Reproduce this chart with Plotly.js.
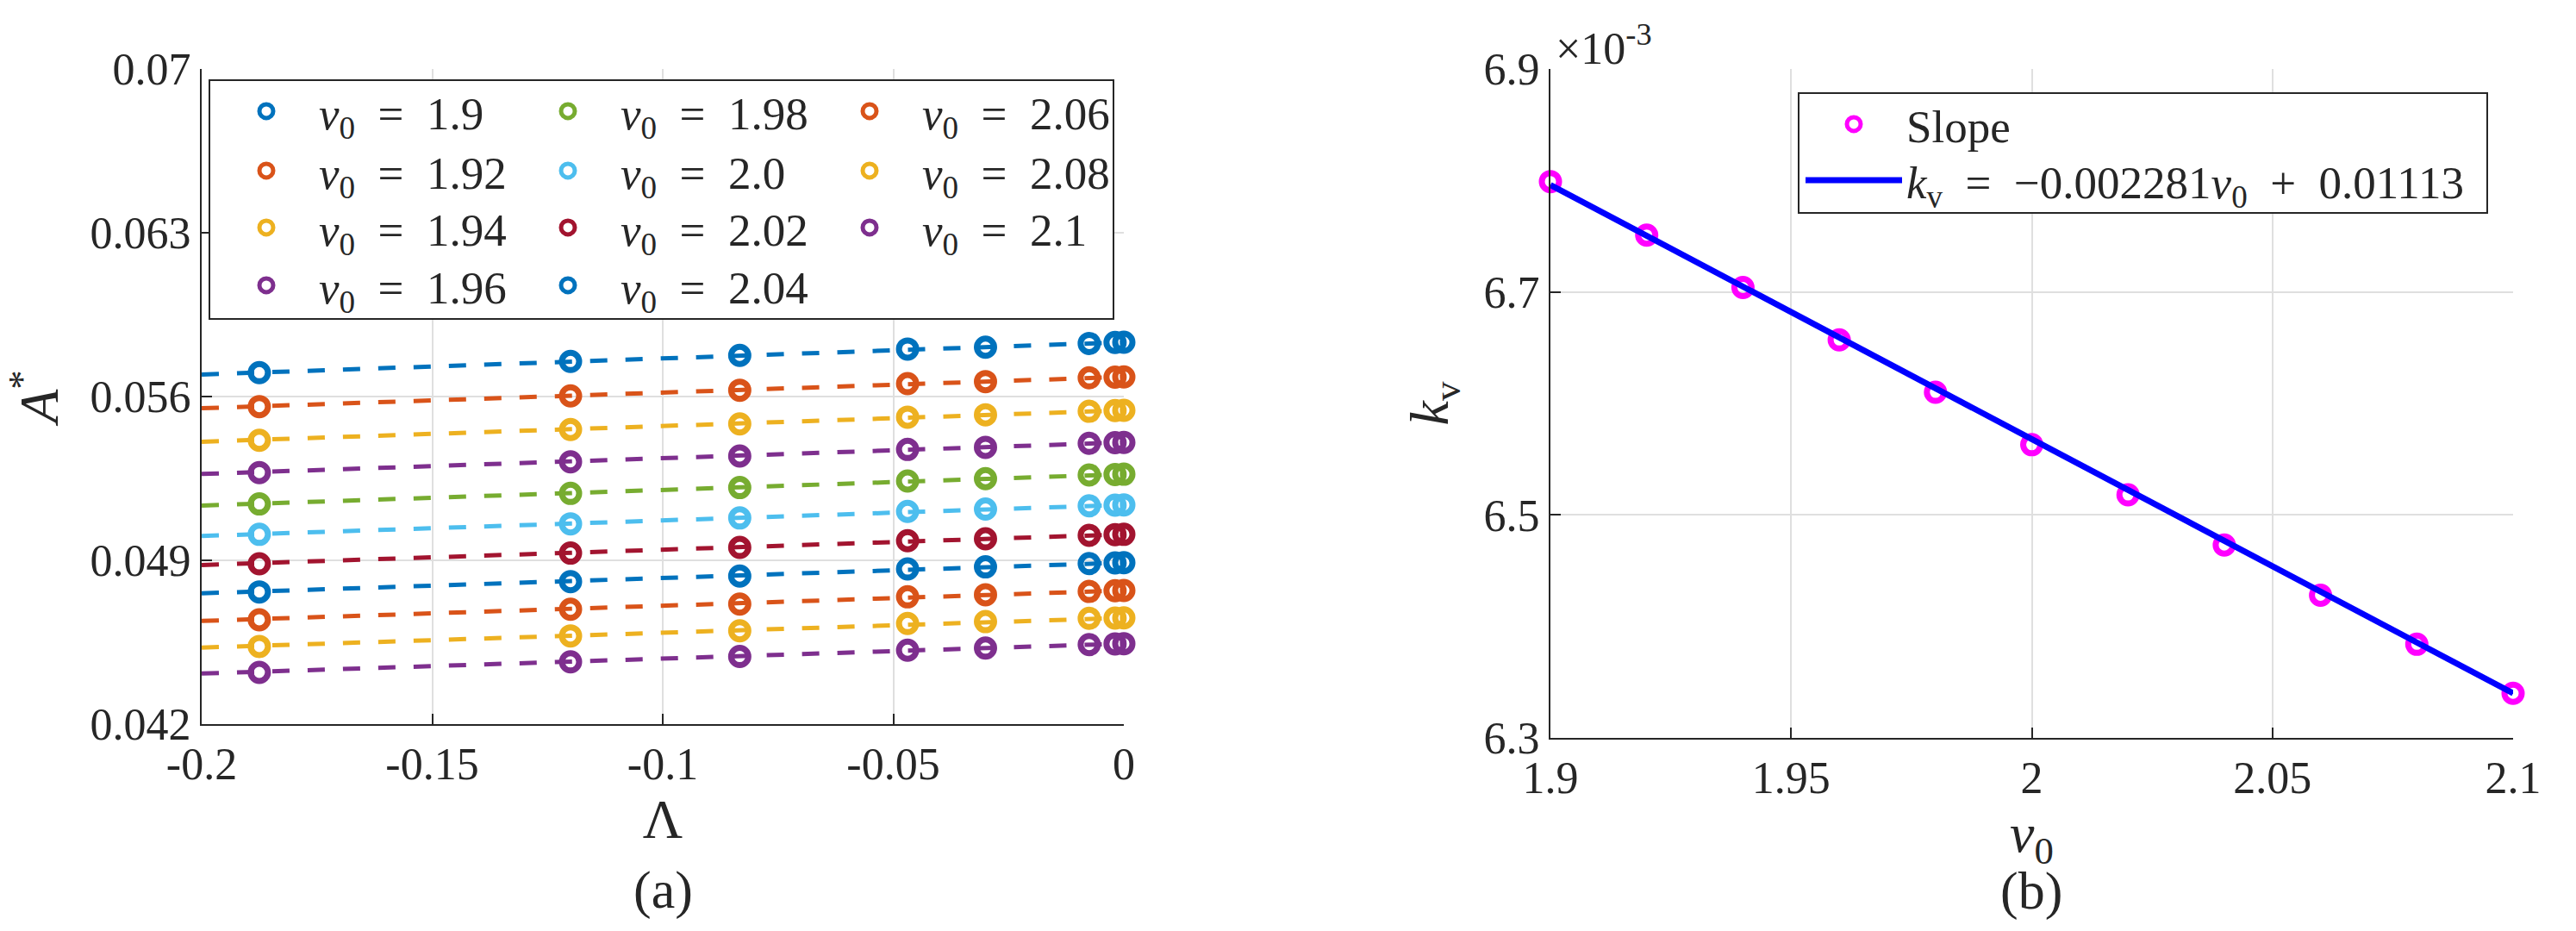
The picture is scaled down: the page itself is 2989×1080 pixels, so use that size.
<!DOCTYPE html>
<html lang="en">
  <head>
    <meta charset="utf-8">
    <title>A* vs Lambda and slope k_v</title>
    <script src="https://cdn.plot.ly/plotly-3.0.1.min.js" charset="utf-8"></script>
    <style>
      body { margin: 0; background: #fff; }
    </style>
  </head>
  <body>
    <div id="plot" style="width:2989px;height:1080px"></div>
    <script type="text/javascript">
      // ---- data ----
      const lambdaVals = [-0.1875, -0.12, -0.0833, -0.0469, -0.03, -0.0075, -0.0019, 0];
      const v0Vals = [1.9, 1.92, 1.94, 1.96, 1.98, 2.0, 2.02, 2.04, 2.06, 2.08, 2.1];
      const v0Labels = ['1.9', '1.92', '1.94', '1.96', '1.98', '2.0', '2.02', '2.04', '2.06', '2.08', '2.1'];

      const aV190 = [0.05702, 0.05750, 0.05776, 0.05803, 0.05811, 0.05827, 0.05831, 0.05832];
      const aV192 = [0.05557, 0.05603, 0.05627, 0.05655, 0.05664, 0.05680, 0.05683, 0.05684];
      const aV194 = [0.05413, 0.05459, 0.05483, 0.05512, 0.05522, 0.05537, 0.05540, 0.05541];
      const aV196 = [0.05275, 0.05321, 0.05346, 0.05374, 0.05383, 0.05400, 0.05403, 0.05404];
      const aV198 = [0.05141, 0.05186, 0.05211, 0.05239, 0.05249, 0.05265, 0.05267, 0.05268];
      const aV200 = [0.05011, 0.05056, 0.05081, 0.05109, 0.05119, 0.05133, 0.05136, 0.05137];
      const aV202 = [0.04885, 0.04931, 0.04955, 0.04984, 0.04992, 0.05007, 0.05010, 0.05011];
      const aV204 = [0.04765, 0.04809, 0.04833, 0.04863, 0.04872, 0.04886, 0.04889, 0.04890];
      const aV206 = [0.04646, 0.04691, 0.04713, 0.04744, 0.04753, 0.04767, 0.04770, 0.04771];
      const aV208 = [0.04532, 0.04577, 0.04599, 0.04630, 0.04638, 0.04652, 0.04653, 0.04654];
      const aV210 = [0.04421, 0.04466, 0.04489, 0.04516, 0.04525, 0.04540, 0.04543, 0.04544];
      const aSeries = [aV190, aV192, aV194, aV196, aV198, aV200, aV202, aV204, aV206, aV208, aV210];

      // dashed fitted lines, ends at Lambda = -0.2 and 0
      const fitLambda = [-0.2, 0];
      const fitLeft = [0.05694, 0.05550, 0.05407, 0.05269, 0.05134, 0.05004, 0.04880, 0.04759, 0.04641, 0.04527, 0.04416];
      const fitRight = [0.05832, 0.05684, 0.05541, 0.05404, 0.05268, 0.05137, 0.05011, 0.04890, 0.04771, 0.04654, 0.04544];

      // panel (b): slope k_v against v0
      const slopeK = [0.006799, 0.006751, 0.006704, 0.006657, 0.006610, 0.006563, 0.006518, 0.006473, 0.006428, 0.006384, 0.006340];
      const kFitV0 = [1.9, 2.1];
      const kFitVals = [0.006796, 0.006340];

      // tick labels
      const axLambdaTicks = [-0.2, -0.15, -0.1, -0.05, 0];
      const axLambdaText = ['-0.2', '-0.15', '-0.1', '-0.05', '0'];
      const axATicks = [0.042, 0.049, 0.056, 0.063, 0.07];
      const axAText = ['0.042', '0.049', '0.056', '0.063', '0.07'];
      const axV0Ticks = [1.9, 1.95, 2, 2.05, 2.1];
      const axV0Text = ['1.9', '1.95', '2', '2.05', '2.1'];
      const axKTicks = [0.0063, 0.0065, 0.0067, 0.0069];
      const axKText = ['6.3', '6.5', '6.7', '6.9'];

      // ---- styling ----
      const W = 2989, H = 1080;
      const px = x => x / W;
      const py = y => 1 - y / H;
      const FONT = '"Liberation Serif", "DejaVu Serif", serif';
      const INK = '#262626';
      const GRID = '#dfdfdf';
      const matlabColors = ['#0072BD', '#D95319', '#EDB120', '#7E2F8E', '#77AC30', '#4DBEEE', '#A2142F'];
      const EQ = '\u2002=\u2002';
      // every legend entry gets its own legend, laid out 3 columns x 4 rows like the original box
      const legendId = n => (n === 1 ? 'legend' : 'legend' + n);
      const colLeft = [248, 598, 948];
      const rowMid = [129, 198, 264, 331];

      let traces = [];
      // dashed lines first (no legend)
      aSeries.forEach((ys, i) => {
        traces.push({
          x: fitLambda,
          y: [fitLeft[i], fitRight[i]],
          type: 'scatter',
          mode: 'lines',
          xaxis: 'x', yaxis: 'y',
          showlegend: false,
          hoverinfo: 'skip',
          line: {color: matlabColors[i % 7], width: 5, dash: '20px,21px'}
        });
      });
      // circle markers
      aSeries.forEach((ys, i) => {
        traces.push({
          x: lambdaVals,
          y: ys,
          type: 'scatter',
          mode: 'markers',
          xaxis: 'x', yaxis: 'y',
          name: '<i>v</i><sub>0</sub>' + EQ + v0Labels[i],
          legend: legendId(i + 1),
          cliponaxis: false,
          marker: {symbol: 'circle-open', size: 20, color: matlabColors[i % 7], line: {width: 7, color: matlabColors[i % 7]}}
        });
      });
      // panel b
      traces.push({
        x: v0Vals,
        y: slopeK,
        type: 'scatter',
        mode: 'markers',
        xaxis: 'x2', yaxis: 'y2',
        name: 'Slope',
        legend: legendId(12),
        cliponaxis: false,
        marker: {symbol: 'circle-open', size: 20, color: '#FF00FF', line: {width: 7, color: '#FF00FF'}}
      });
      traces.push({
        x: kFitV0,
        y: kFitVals,
        type: 'scatter',
        mode: 'lines',
        xaxis: 'x2', yaxis: 'y2',
        name: '<i>k</i><sub>v</sub>' + EQ + '\u22120.002281<i>v</i><sub>0</sub>\u2002+\u20020.01113',
        legend: legendId(13),
        cliponaxis: false,
        line: {color: '#0000FF', width: 7}
      });

      const axisBase = {
        showline: true, linecolor: INK, linewidth: 2,
        ticks: 'inside', ticklen: 12, tickwidth: 2, tickcolor: INK,
        showgrid: true, gridcolor: GRID, gridwidth: 2,
        zeroline: false, mirror: false,
        tickmode: 'array', automargin: false,
        tickfont: {family: FONT, size: 52, color: INK}
      };
      const legendBase = {
        bgcolor: 'rgba(0,0,0,0)', borderwidth: 0,
        font: {family: FONT, size: 53, color: INK},
        orientation: 'v', xanchor: 'left', yanchor: 'middle',
        itemwidth: 112, itemsizing: 'trace'
      };
      const titleFont = {family: FONT, size: 64, color: INK};

      let layout = {
        width: W, height: H,
        autosize: false,
        margin: {l: 0, r: 0, t: 0, b: 0},
        paper_bgcolor: '#fff', plot_bgcolor: '#fff',
        font: {family: FONT, color: INK},
        xaxis: Object.assign({}, axisBase, {
          domain: [px(234), px(1304)], anchor: 'y',
          range: [-0.2, 0], tickvals: axLambdaTicks, ticktext: axLambdaText,
          title: {text: '\u039B', font: titleFont, standoff: 8}
        }),
        yaxis: Object.assign({}, axisBase, {
          domain: [py(840), py(80)], anchor: 'x',
          range: [0.042, 0.07], tickvals: axATicks, ticktext: axAText,
          title: {text: '<i>A</i><sup>*</sup>', font: titleFont, standoff: 28}
        }),
        xaxis2: Object.assign({}, axisBase, {
          domain: [px(1799), px(2916)], anchor: 'y2',
          range: [1.9, 2.1], tickvals: axV0Ticks, ticktext: axV0Text,
          title: {text: '<i>v</i><sub>0</sub>', font: titleFont, standoff: 2}
        }),
        yaxis2: Object.assign({}, axisBase, {
          domain: [py(856), py(80)], anchor: 'x2',
          range: [0.0063, 0.0069], tickvals: axKTicks, ticktext: axKText,
          title: {text: '<i>k</i><sub>v</sub>', font: titleFont, standoff: 20}
        }),
        shapes: [
          {type: 'rect', xref: 'paper', yref: 'paper', x0: px(243), x1: px(1292), y0: py(370), y1: py(93),
           line: {color: INK, width: 2}, fillcolor: '#fff', layer: 'above'},
          {type: 'rect', xref: 'paper', yref: 'paper', x0: px(2087), x1: px(2886), y0: py(247), y1: py(108),
           line: {color: INK, width: 2}, fillcolor: '#fff', layer: 'above'}
        ],
        annotations: [
          {text: '(a)', xref: 'paper', yref: 'paper', x: px(769), y: py(1032), xanchor: 'center', yanchor: 'middle',
           showarrow: false, font: {family: FONT, size: 62, color: INK}},
          {text: '(b)', xref: 'paper', yref: 'paper', x: px(2357), y: py(1033), xanchor: 'center', yanchor: 'middle',
           showarrow: false, font: {family: FONT, size: 62, color: INK}},
          {text: '\u00D710<sup>-3</sup>', xref: 'paper', yref: 'paper', x: px(1803), y: py(52), xanchor: 'left', yanchor: 'middle',
           showarrow: false, font: {family: FONT, size: 52, color: INK}}
        ]
      };
      // legend placement
      for (let i = 0; i < 11; i++) {
        layout[legendId(i + 1)] = Object.assign({}, legendBase, {
          x: px(colLeft[Math.floor(i / 4)]), y: py(rowMid[i % 4])
        });
      }
      layout[legendId(12)] = Object.assign({}, legendBase, {x: px(2090), y: py(144)});
      layout[legendId(13)] = Object.assign({}, legendBase, {x: px(2090), y: py(209)});

      Plotly.newPlot(document.getElementById('plot'), traces, layout, {staticPlot: true, displayModeBar: false});
    </script>
  </body>
</html>
